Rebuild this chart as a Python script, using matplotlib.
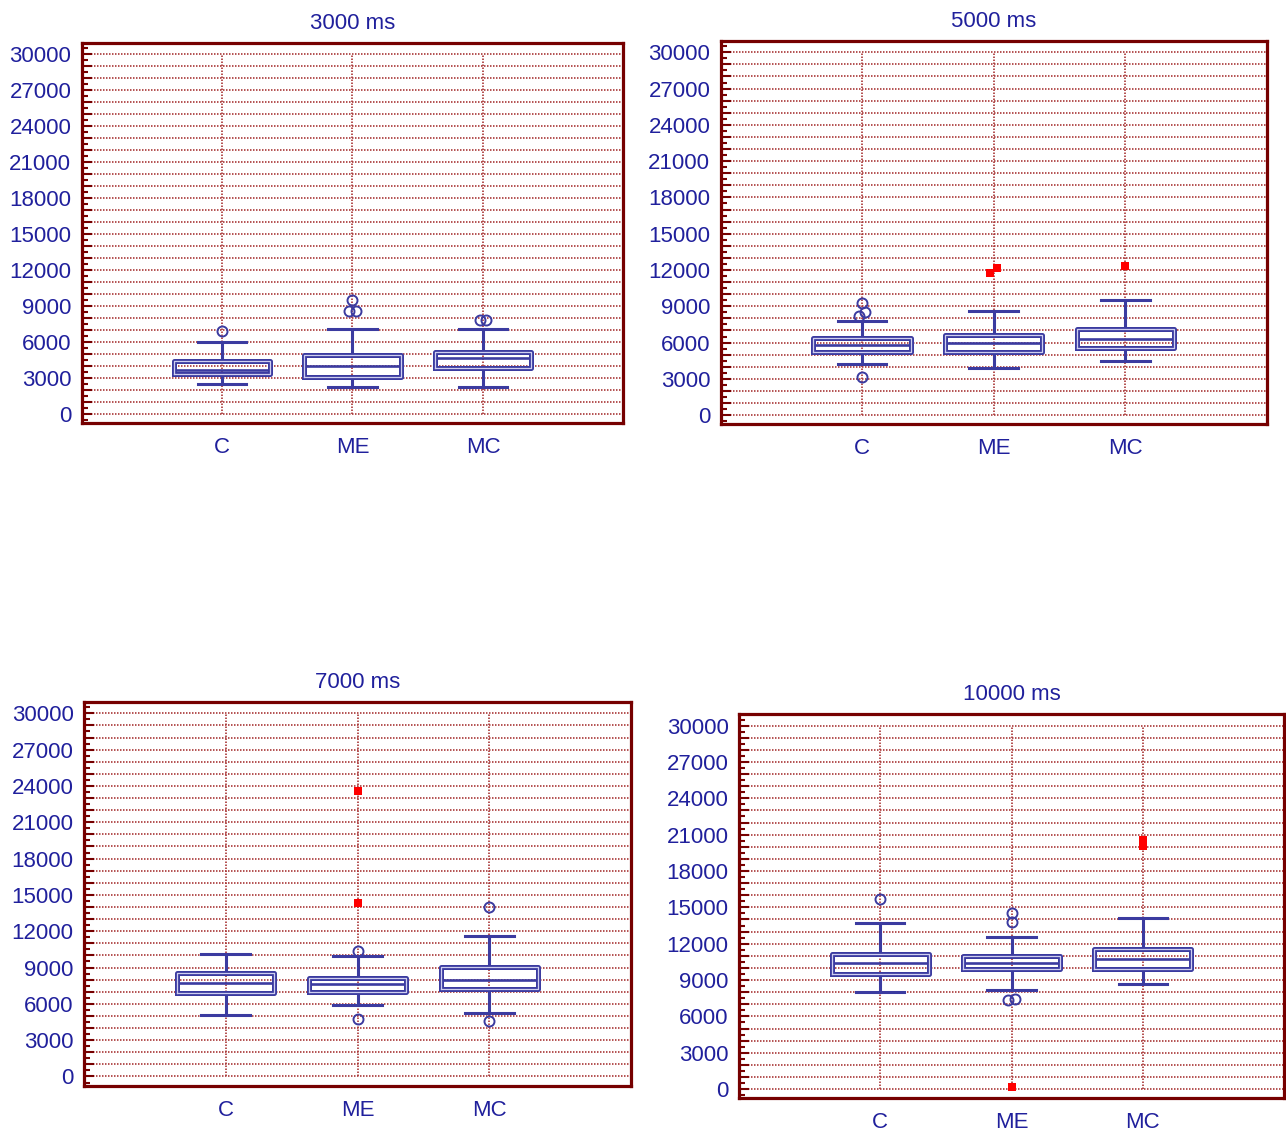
import numpy as np
import matplotlib.pyplot as plt
from matplotlib.ticker import MultipleLocator, FuncFormatter

plt.rcParams['font.family'] = ['Liberation Sans', 'DejaVu Sans']

# --- DATA ---
titles = ["3000 ms", "5000 ms", "7000 ms", "10000 ms"]
groups = ["C", "ME", "MC"]

whis_lo = [[2500, 2250, 2250], [4190, 3860, 4470], [5090, 5920, 5230], [8040, 8180, 8650]]
q1      = [[3330, 3130, 3830], [5240, 5240, 5520], [6930, 7020, 7240], [9500, 9890, 9890]]
median  = [[3690, 4000, 4670], [5790, 5930, 6260], [7760, 7630, 7930], [10430, 10380, 10710]]
q3      = [[4440, 4940, 5220], [6340, 6620, 7110], [8590, 8170, 9080], [11130, 10990, 11560]]
whis_hi = [[6000, 7110, 7110], [7800, 8600, 9510], [10130, 9990, 11640], [13740, 12580, 14100]]

# outside values (open circles) and far-out values (red squares)
outside = [
    [[6940], [9520, 8630, 8630], [7860, 7860]],
    [[9240, 8540, 8210, 3120], [], []],
    [[], [10400, 4740], [14030, 4620]],
    [[15670], [14510, 13820, 7350, 7430], []],
]
far_out = [
    [[], [], []],
    [[], [11720, 12130], [12350]],
    [[], [23580, 14360], []],
    [[], [150], [20550, 20100]],
]

# --- STYLE ---
TEXT = '#20209c'
BOX = '#3b3ba0'
FRAME = '#760000'
GRID = '#a83535'
FIG_W, FIG_H = 1286, 1131
# axes frames in pixels: left, top, right, bottom
FRAMES_PX = [(81.7, 42.7, 623.3, 423.3), (720.7, 40.7, 1266.7, 424.3),
             (84.0, 701.7, 631.0, 1085.7), (739.0, 714.0, 1284.0, 1098.3)]
FS = 16


def spread(values, step=0.025, near=430):
    """Small sideways offsets for points that would sit on top of each other."""
    vals = np.asarray(values, dtype=float)
    offs = np.zeros(len(vals))
    order = np.argsort(vals)
    i = 0
    while i < len(order):
        j = i
        while j + 1 < len(order) and vals[order[j + 1]] - vals[order[j]] < near:
            j += 1
        n = j - i + 1
        if n > 1:
            offs[order[i:j + 1]] = (np.arange(n) - (n - 1) / 2) * 2 * step
        i = j + 1
    return offs


def draw_panel(ax, k):
    pos = np.arange(1, len(groups) + 1)
    stats = []
    for g in range(len(groups)):
        stats.append(dict(whislo=whis_lo[k][g], q1=q1[k][g], med=median[k][g],
                          q3=q3[k][g], whishi=whis_hi[k][g], fliers=[]))
    parts = ax.bxp(stats, positions=pos, widths=0.74, showfliers=False,
                   boxprops=dict(color=BOX, lw=3.6),
                   whiskerprops=dict(color=BOX, lw=2.2),
                   capprops=dict(color=BOX, lw=2.2),
                   medianprops=dict(color=BOX, lw=1.9),
                   capwidths=0.37, zorder=3)
    # double-line look of the box outline
    for line in parts['boxes']:
        ax.plot(line.get_xdata(), line.get_ydata(), color='#cfcff0', lw=0.9, zorder=4)

    for g, x in enumerate(pos):
        if outside[k][g]:
            dx = spread(outside[k][g])
            ax.plot(x + dx, outside[k][g], 'o', ms=7.2, mfc='none', mec=BOX, mew=1.4, zorder=5)
        if far_out[k][g]:
            dx = spread(far_out[k][g])
            ax.plot(x + dx, far_out[k][g], 's', ms=6, color='#ff0000', mew=0, zorder=5)

    ax.vlines(pos, 0, 30000, color=GRID, lw=1.2, ls=(0, (0.9, 0.9)), zorder=1)
    ax.set_xlim(2 - 2.075, 2 + 2.075)
    ax.set_ylim(-760, 30960)
    ax.set_xticks(pos)
    ax.set_xticklabels(groups)
    ax.yaxis.set_major_locator(MultipleLocator(1000))
    ax.yaxis.set_minor_locator(MultipleLocator(500))
    ax.yaxis.set_major_formatter(FuncFormatter(lambda v, p: f"{int(round(v))}" if round(v) % 3000 == 0 else ""))
    ax.yaxis.grid(True, which='major', color=GRID, lw=1.2, ls=(0, (0.9, 0.9)), zorder=1)
    ax.set_axisbelow(True)
    ax.tick_params(axis='y', which='major', direction='in', length=7.5, width=1.5,
                   color=FRAME, labelsize=FS, labelcolor=TEXT, pad=7.5)
    ax.tick_params(axis='y', which='minor', direction='in', length=4.5, width=1.5, color=FRAME)
    ax.tick_params(axis='x', length=0, pad=10, labelsize=FS, labelcolor=TEXT)
    for sp in ax.spines.values():
        sp.set_color(FRAME)
        sp.set_linewidth(2.3)
    ax.set_title(titles[k], fontsize=FS, color=TEXT, pad=10)


def main():
    fig = plt.figure(figsize=(FIG_W / 100, FIG_H / 100), dpi=100)
    for k, (l, t, r, b) in enumerate(FRAMES_PX):
        ax = fig.add_axes([l / FIG_W, 1 - b / FIG_H, (r - l) / FIG_W, (b - t) / FIG_H])
        draw_panel(ax, k)
    fig.savefig('out.png', dpi=100)


if __name__ == "__main__":
    main()
